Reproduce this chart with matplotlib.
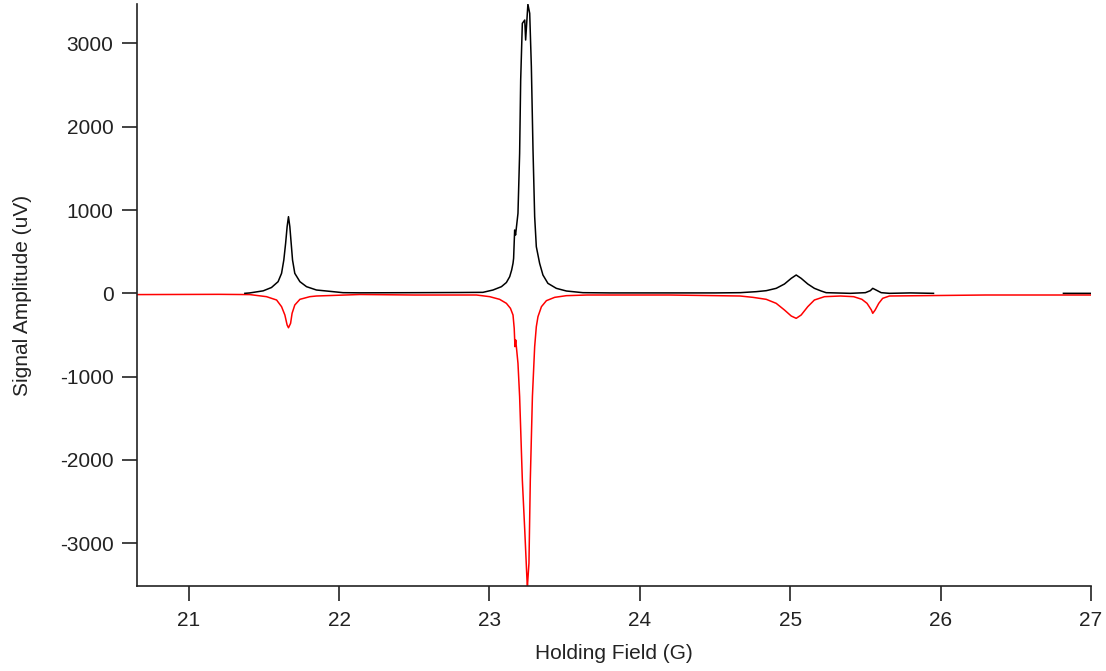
import numpy as np
import matplotlib
matplotlib.use("Agg")
import matplotlib.pyplot as plt

# values (field in G, amplitude in uV)
black_field = [21.374, 21.407, 21.496, 21.551, 21.595, 21.618, 21.633, 21.645, 21.655,
               21.664, 21.673, 21.682, 21.691, 21.706, 21.740, 21.784, 21.850, 21.961,
               22.027, 22.140, 22.500, 22.800, 22.957, 23.024, 23.080, 23.113, 23.135,
               23.148, 23.157, 23.161, 23.168, 23.174, 23.190, 23.201, 23.208, 23.219,
               23.235, 23.241, 23.256, 23.268, 23.279, 23.290, 23.301, 23.312, 23.334,
               23.356, 23.389, 23.445, 23.512, 23.622, 23.800, 24.200, 24.500, 24.667,
               24.774, 24.841, 24.907, 24.962, 25.007, 25.040, 25.073, 25.117, 25.161,
               25.206, 25.239, 25.400, 25.500, 25.533, 25.549, 25.571, 25.605, 25.660,
               25.800, 25.953,
               np.nan, 26.817, 27.000]
black_signal = [0, 5, 30, 70, 140, 240, 400, 600, 800,
                920, 800, 600, 400, 240, 140, 80, 40, 20,
                8, 6, 8, 10, 12, 40, 80, 130, 200,
                280, 360, 420, 760, 700, 960, 1680, 2560, 3240,
                3280, 3040, 3470, 3360, 2720, 1720, 920, 560, 360,
                220, 120, 60, 28, 8, 5, 5, 5, 8,
                20, 32, 60, 112, 180, 220, 180, 112, 60,
                28, 8, 0, 8, 32, 60, 40, 8, 0,
                5, 0,
                np.nan, 0, 0]

red_field = [20.657, 21.200, 21.407, 21.518, 21.585, 21.618, 21.640, 21.655, 21.664,
             21.678, 21.688, 21.706, 21.740, 21.806, 21.850, 22.138, 22.500, 22.914,
             23.002, 23.068, 23.113, 23.140, 23.157, 23.165, 23.170, 23.175, 23.190,
             23.201, 23.219, 23.235, 23.250, 23.253, 23.263, 23.272, 23.286, 23.301,
             23.312, 23.323, 23.346, 23.379, 23.434, 23.512, 23.650, 24.200, 24.667,
             24.752, 24.841, 24.907, 24.962, 25.007, 25.040, 25.073, 25.117, 25.161,
             25.228, 25.334, 25.422, 25.477, 25.511, 25.540, 25.549, 25.565, 25.589,
             25.615, 25.660, 26.300, 27.000]
red_signal = [-15, -12, -15, -40, -80, -160, -260, -380, -413,
              -360, -240, -140, -72, -40, -32, -14, -20, -20,
              -40, -72, -120, -180, -260, -420, -640, -560, -840,
              -1240, -2240, -2840, -3440, -3510, -3240, -2240, -1240, -640,
              -400, -280, -160, -88, -48, -28, -20, -20, -32,
              -48, -72, -120, -200, -272, -300, -260, -160, -80,
              -40, -32, -40, -72, -120, -200, -240, -200, -120,
              -60, -32, -20, -20]

x_ticks = [21, 22, 23, 24, 25, 26, 27]
y_ticks = [-3000, -2000, -1000, 0, 1000, 2000, 3000]

plt.rcParams['font.family'] = ['Liberation Sans', 'DejaVu Sans']
plt.rcParams['axes.unicode_minus'] = False

fig = plt.figure(figsize=(11.06, 6.71), dpi=100)
ax = fig.add_axes([0.1239, 0.1267, 0.8625, 0.8673])

ax.plot(red_field, red_signal, color='#ff0000', lw=1.1)
ax.plot(black_field, black_signal, color='black', lw=1.1)

ax.set_xlim(20.657, 27.0)
ax.set_ylim(-3512, 3472)
ax.set_xticks(x_ticks)
ax.set_yticks(y_ticks)

for s in ['top', 'right']:
    ax.spines[s].set_visible(False)
for s in ['left', 'bottom']:
    ax.spines[s].set_linewidth(1.2)
    ax.spines[s].set_color('#222222')
ax.tick_params(direction='out', length=11, width=1.2, color='#222222',
               labelsize=15, labelcolor='#222222')
ax.tick_params(axis='x', pad=7)
ax.tick_params(axis='y', pad=6)

ax.set_xlabel('Holding Field (G)', fontsize=15, color='#222222', labelpad=10)
ax.set_ylabel('Signal Amplitude (uV)', fontsize=15, color='#222222', labelpad=20)

fig.savefig('out.png', dpi=100)
